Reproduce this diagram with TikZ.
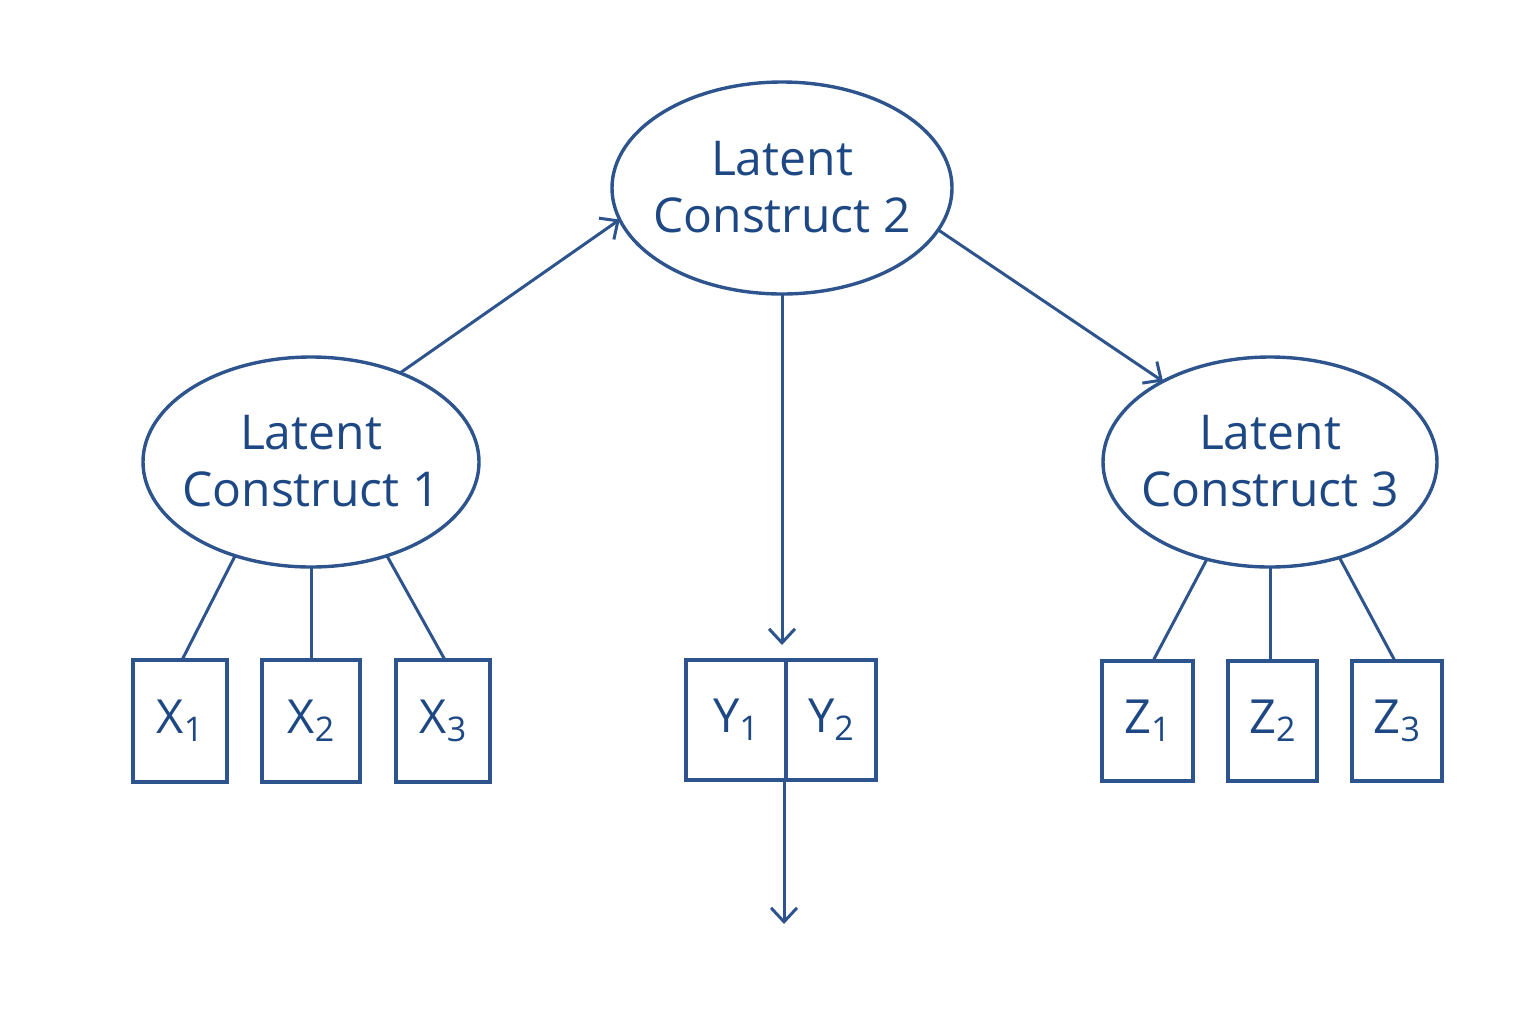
\documentclass[tikz,border=0pt]{standalone}
\usepackage{fontspec}
\setmainfont{Open Sans}
\usetikzlibrary{shapes.geometric,arrows.meta}
\definecolor{ink}{RGB}{46,84,142}
\definecolor{txt}{RGB}{30,72,132}
\tikzset{
  latent/.style={ellipse,draw=ink,line width=1.7pt,inner sep=-30pt,outer sep=0pt,text=txt,align=center,font=\fontsize{24}{28.5}\selectfont},
  obs/.style={rectangle,draw=ink,line width=1.8pt,minimum width=47pt,minimum height=61pt,inner sep=0pt,outer sep=0pt,text=txt,font=\fontsize{23.5}{28}\selectfont},
  link/.style={draw=ink,line width=1.5pt},
  arr/.style={link,-{Straight Barb[length=7pt,width=13pt,line width=1.5pt]}}
}
\newcommand{\sbs}[1]{\raisebox{-4pt}{\fontsize{17}{17}\selectfont #1}}
\newcommand{\lat}[1]{\begin{tabular}{@{}c@{}}\rule{0pt}{25pt}Latent\\Construct #1\end{tabular}}
\begin{document}
\begin{tikzpicture}[x=0.5pt,y=-0.5pt]
\useasboundingbox (0,0) rectangle (1536,1024);
\node[latent,minimum width=170pt,minimum height=106pt] (L2) at (782,188) {\lat{2}};
\node[latent,minimum width=168pt,minimum height=105pt] (L1) at (311,462) {\lat{1}};
\node[latent,minimum width=167pt,minimum height=105pt] (L3) at (1270,462) {\lat{3}};
\node[obs] (X1) at (180,721) {X\sbs{1}};
\node[obs,minimum width=49pt] (X2) at (311,721) {X\sbs{2}};
\node[obs] (X3) at (443,721) {X\sbs{3}};
\node[obs,minimum width=50pt,minimum height=60pt] (Y1) at (736,720) {Y\sbs{1}};
\node[obs,minimum width=45pt,minimum height=60pt,anchor=west] (Y2) at (Y1.east) {Y\sbs{2}};
\node[obs,minimum width=45.5pt,minimum height=60pt] (Z1) at (1147.5,721) {Z\sbs{1}};
\node[obs,minimum width=44.5pt,minimum height=60pt] (Z2) at (1272.5,721) {Z\sbs{2}};
\node[obs,minimum width=45pt,minimum height=60pt] (Z3) at (1397,721) {Z\sbs{3}};
\coordinate (end) at (784,924);
\draw[arr] (L1.45) -- (L2.191);
\draw[arr] (L2.-15.6) -- (L3.143);
\draw[arr] (L2.south) -- ([yshift=7.5pt]L2.south |- Y1.north);
\draw[arr] ([xshift=-1pt]Y1.south east) -- ([xshift=-1pt]Y1.south east |- end);
\draw[link] (L1.-129.7) -- ([xshift=1pt]X1.north);
\draw[link] (L1.south) -- (L1.south |- X2.north);
\draw[link] (L1.-51.6) -- ([xshift=1pt]X3.north);
\draw[link] (L3.-123.6) -- ([xshift=2.75pt]Z1.north);
\draw[link] (L3.south) -- (L3.south |- Z2.north);
\draw[link] (L3.-54.5) -- ([xshift=-1pt]Z3.north);
\end{tikzpicture}
\end{document}
